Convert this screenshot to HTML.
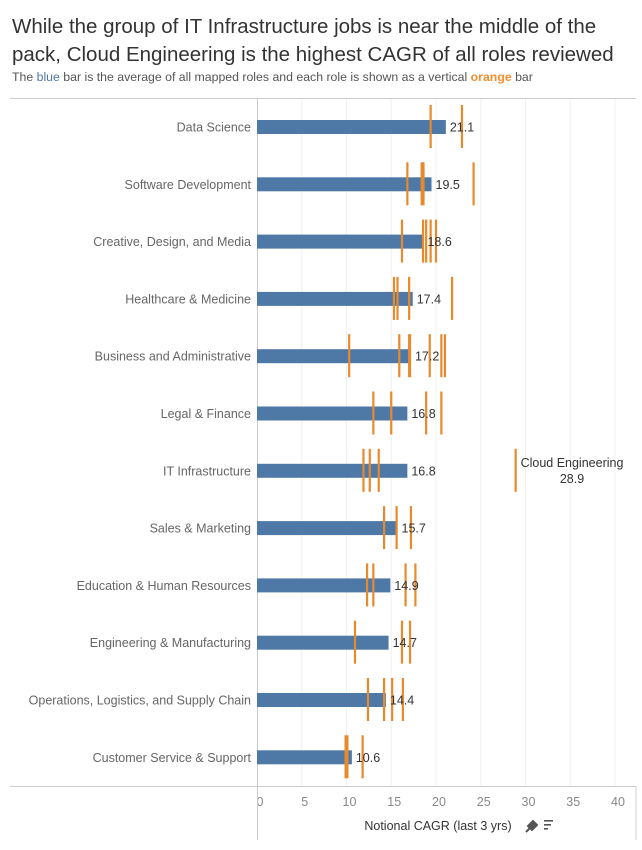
<!DOCTYPE html>
<html><head><meta charset="utf-8"><style>
body{margin:0;background:#fff;font-family:"Liberation Sans",sans-serif;}
#wrap{position:relative;width:642px;height:850px;overflow:hidden;}
.t{position:absolute;left:12px;font-size:20.5px;color:#333;white-space:nowrap;}
.sub{position:absolute;left:12px;top:70px;font-size:12.3px;color:#555;white-space:nowrap;}
</style></head><body>
<div id="wrap">
<div class="t" style="top:15px">While the group of IT Infrastructure jobs is near the middle of the</div>
<div class="t" style="top:43px">pack, Cloud Engineering is the highest CAGR of all roles reviewed</div>
<div class="sub">The <span style="color:#4e79a7">blue</span> bar is the average of all mapped roles and each role is shown as a vertical <span style="color:#f28e2b;font-weight:bold">orange</span> bar</div>
<svg id="chart" width="642" height="850" style="position:absolute;left:0;top:0"></svg>
</div>
<script>
const categories=["Data Science","Software Development","Creative, Design, and Media","Healthcare & Medicine","Business and Administrative","Legal & Finance","IT Infrastructure","Sales & Marketing","Education & Human Resources","Engineering & Manufacturing","Operations, Logistics, and Supply Chain","Customer Service & Support"];
const averages=[21.1,19.5,18.6,17.4,17.2,16.8,16.8,15.7,14.9,14.7,14.4,10.6];
const roles=[[19.4,22.9],[16.8,18.4,18.6,24.2],[16.2,18.55,18.9,19.4,20.0],[15.3,15.7,17.0,21.8],[10.3,15.9,17.0,17.1,19.3,20.6,21.0],[13.0,15.0,18.9,20.6],[11.9,12.6,13.6,28.9],[14.2,15.6,17.2],[12.3,13.0,16.6,17.7],[10.95,16.2,17.1],[12.4,14.2,15.1,16.3],[9.9,10.1,11.8]];
const ticks=[0,5,10,15,20,25,30,35,40];
const svg=document.getElementById('chart');const NS='http://www.w3.org/2000/svg';
const x=v=>257+v*8.95;const y=i=>127+i*57.3;
function mk(t,a,p){const e=document.createElementNS(NS,t);for(const k in a)e.setAttribute(k,a[k]);(p||svg).appendChild(e);return e;}
let e;
e=mk('line',{x1:10,x2:636,y1:98.5,y2:98.5,stroke:'#ccc'});


ticks.forEach(t=>{if(t>0){e=mk('line',{x1:x(t),x2:x(t),y1:99,y2:786,stroke:'#f0f0f0'});

}
e=mk('text',{x:x(t)+3,y:806,'text-anchor':'middle','font-size':12.5,fill:'#888'});e.textContent=t;

});
e=mk('line',{x1:257.5,x2:257.5,y1:99,y2:840,stroke:'#ccc'});


e=mk('line',{x1:10,x2:636,y1:786.5,y2:786.5,stroke:'#ccc'});


e=mk('line',{x1:636,x2:636,y1:786,y2:840,stroke:'#ccc'});


categories.forEach((c,i)=>{
 e=mk('text',{x:251,y:y(i)+4.5,'text-anchor':'end','font-size':12.5,fill:'#666'});e.textContent=c;
 
 
 e=mk('rect',{x:x(0),y:y(i)-7,width:x(averages[i])-x(0),height:14,fill:'#4e79a7'});
 
 
 roles[i].forEach(v=>{e=mk('line',{x1:x(v),x2:x(v),y1:y(i)-22,y2:y(i)+21,stroke:'#e8892b','stroke-width':2.2});
 
 });
 e=mk('text',{x:x(averages[i])+4,y:y(i)+4.5,'font-size':12.5,fill:'#333'});e.textContent=averages[i].toFixed(1);
 
 
});
e=mk('text',{x:572,y:467,'text-anchor':'middle','font-size':12.5,fill:'#333'});e.textContent='Cloud Engineering';


e=mk('text',{x:572,y:483,'text-anchor':'middle','font-size':12.5,fill:'#333'});e.textContent='28.9';


e=mk('text',{x:438,y:830,'text-anchor':'middle','font-size':12.5,fill:'#333'});e.textContent='Notional CAGR (last 3 yrs)';


e=mk('path',{d:'M526 832 L530 828 M528 826 L533 821 L537 825 L532 830 Z',stroke:'#555','stroke-width':2,fill:'#555'});


const g=mk('g',{});


[[9,0],[7,4],[4,8]].forEach((s,k)=>mk('rect',{x:544,y:820+k*4,width:s[0],height:1.6,fill:'#555'},g));
</script>
</body></html>
